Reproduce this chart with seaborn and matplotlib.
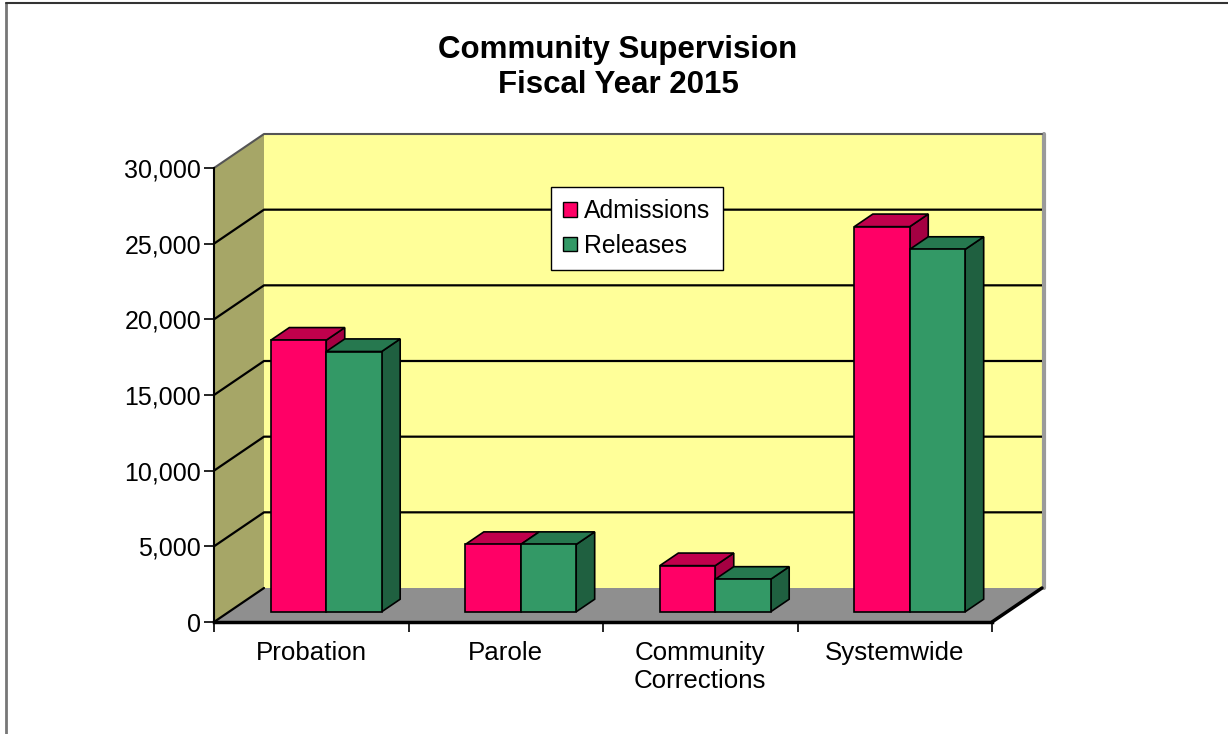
import numpy as np
import pandas as pd
import matplotlib
matplotlib.use('Agg')
import matplotlib.pyplot as plt
import seaborn as sns
from matplotlib.patches import Polygon, Patch
from matplotlib.lines import Line2D

# ---------------- data ----------------
categories = ['Probation', 'Parole', 'Community\nCorrections', 'Systemwide']
series_names = ['Admissions', 'Releases']
admissions = [17950, 4450, 3050, 25450]
releases = [17200, 4450, 2150, 23950]
ytick_values = [0, 5000, 10000, 15000, 20000, 25000, 30000]
ytick_labels = ['0', '5,000', '10,000', '15,000', '20,000', '25,000', '30,000']
title_lines = ['Community Supervision', 'Fiscal Year 2015']

df = pd.DataFrame({
    'category': categories * 2,
    'value': admissions + releases,
    'series': [series_names[0]] * len(categories) + [series_names[1]] * len(categories),
})

sns.set_style('white')
plt.rcParams['font.family'] = ['Liberation Sans', 'DejaVu Sans']
plt.rcParams['text.color'] = 'black'
plt.rcParams['xtick.color'] = 'black'
plt.rcParams['ytick.color'] = 'black'
plt.rcParams['axes.labelcolor'] = 'black'

W, H = 1228, 734
fig = plt.figure(figsize=(W / 100, H / 100), dpi=100)
ax = fig.add_axes([214 / W, 1 - 622 / H, (992 - 214) / W, (622 - 168) / H])
ax.patch.set_alpha(0)

front = {'Admissions': '#FF0066', 'Releases': '#339966'}
topc = {'Admissions': '#C0004C', 'Releases': '#26784F'}
sidec = {'Admissions': '#A50042', 'Releases': '#1F6040'}

sns.barplot(data=df, x='category', y='value', hue='series', palette=front,
            width=0.57, edgecolor='black', linewidth=1.2, legend=False,
            saturation=1, errorbar=None, ax=ax)

ax.set_xlim(-0.5, len(categories) - 0.5)
ax.set_ylim(ytick_values[0], ytick_values[-1])
ax.set_xlabel('')
ax.set_ylabel('')

# depth vector (pixels -> data)
p0 = ax.transData.transform((0, 0))
DX, DY = ax.transData.inverted().transform(p0 + np.array([50.0, 34.0]))

xl, xr = ax.get_xlim()
ymax = ytick_values[-1]

# walls and floor
ax.add_patch(Polygon([(xl + DX, DY), (xr + DX, DY), (xr + DX, ymax + DY), (xl + DX, ymax + DY)],
                     closed=True, fc='#FFFF99', ec='none', zorder=0, clip_on=False))
ax.add_patch(Polygon([(xl, 0), (xl, ymax), (xl + DX, ymax + DY), (xl + DX, DY)],
                     closed=True, fc='#A6A667', ec='none', zorder=0, clip_on=False))
ax.add_patch(Polygon([(xl, 0), (xr, 0), (xr + DX, DY), (xl + DX, DY)],
                     closed=True, fc='#8F8F8F', ec='none', zorder=0.1, clip_on=False))

for v in ytick_values[1:-1]:
    ax.plot([xl, xl + DX, xr + DX], [v, v + DY, v + DY], color='black', lw=1.6,
            zorder=0.5, clip_on=False, solid_capstyle='butt')
ax.plot([xl, xl + DX], [0, DY], color='black', lw=1.6, zorder=0.5, clip_on=False)
ax.plot([xl, xl + DX, xr + DX], [ymax, ymax + DY, ymax + DY], color='#555555', lw=1.5,
        zorder=0.5, clip_on=False)
ax.plot([xr + DX + 1.5 * DX / 50, xr + DX + 1.5 * DX / 50], [DY, ymax + DY], color='#9A9A9A', lw=3,
        zorder=0.4, clip_on=False)
ax.plot([xr, xr + DX], [0, DY], color='black', lw=2.5, zorder=0.6, clip_on=False)

# 3-D bars
f0, f1 = 0.30, 0.67
for si, (name, cont) in enumerate(zip(series_names, ax.containers)):
    for ci, p in enumerate(cont.patches):
        x0 = p.get_x()
        w = p.get_width()
        h = p.get_height()
        z = 3 + ci * 0.1 + si * 0.01
        bx, by = x0 + f0 * DX, f0 * DY
        ddx, ddy = (f1 - f0) * DX, (f1 - f0) * DY
        p.set_x(bx)
        p.set_y(by)
        p.set_zorder(z + 0.003)
        p.set_clip_on(False)
        ax.add_patch(Polygon([(bx + w, by), (bx + w, by + h), (bx + w + ddx, by + h + ddy), (bx + w + ddx, by + ddy)],
                             closed=True, fc=sidec[name], ec='black', lw=1.2, zorder=z + 0.001, clip_on=False))
        ax.add_patch(Polygon([(bx, by + h), (bx + w, by + h), (bx + w + ddx, by + h + ddy), (bx + ddx, by + h + ddy)],
                             closed=True, fc=topc[name], ec='black', lw=1.2, zorder=z + 0.002, clip_on=False))

# axes styling
for s in ['top', 'right']:
    ax.spines[s].set_visible(False)
ax.spines['left'].set_color('black')
ax.spines['left'].set_linewidth(1.5)
ax.spines['bottom'].set_color('black')
ax.spines['bottom'].set_linewidth(2.5)

ax.set_yticks(ytick_values, labels=ytick_labels)
ax.tick_params(axis='y', left=True, length=7, width=1.2, color='black', pad=2.2, labelsize=18,
               labelcolor='black')
ax.set_xticks(range(len(categories)), labels=categories)
ax.set_xticks(np.arange(len(categories) + 1) - 0.5, minor=True)
ax.tick_params(axis='x', which='major', bottom=True, length=0, pad=14, labelsize=18.6,
               labelcolor='black')
ax.tick_params(axis='x', which='minor', bottom=True, length=7, width=1.2, color='black')

# legend
handles = [Patch(fc=front[n], ec='black', lw=1) for n in series_names]
leg = ax.legend(handles, series_names, loc='upper left',
                bbox_to_anchor=(551 / W, 1 - 187 / H), bbox_transform=fig.transFigure,
                frameon=True, fancybox=False, edgecolor='black', fontsize=17.8,
                handlelength=0.55, handleheight=0.55, handletextpad=0.3,
                labelspacing=0.42, borderpad=0.5, borderaxespad=0)
leg.get_frame().set_linewidth(1.0)
leg.get_frame().set_alpha(1)
leg.set_zorder(10)
for t in leg.get_texts():
    t.set_color('black')

# title
fig.text(618 / W, 1 - 67.5 / H, '\n'.join(title_lines), ha='center', va='center',
         fontsize=22.5, fontweight='bold', linespacing=1.2, color='black')

# outer border
fig.add_artist(Line2D([5.5 / W, 5.5 / W], [0, 1 - 3 / H], color='#777777', lw=2, transform=fig.transFigure))
fig.add_artist(Line2D([5.5 / W, 1], [1 - 3 / H, 1 - 3 / H], color='#333333', lw=1.5, transform=fig.transFigure))

fig.savefig('out.png', dpi=100)
